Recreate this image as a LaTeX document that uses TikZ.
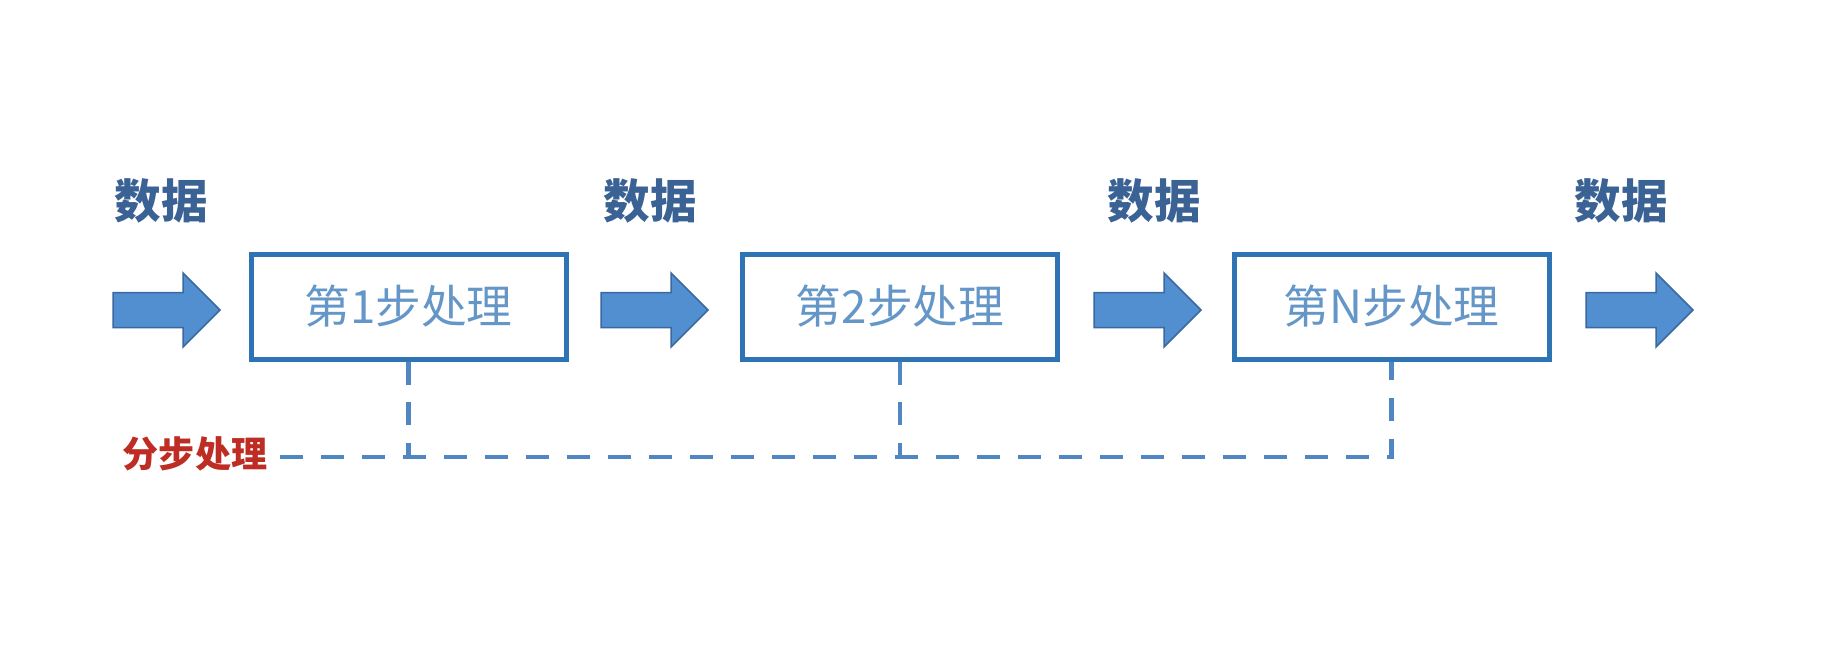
\documentclass[tikz,border=0pt]{standalone}
\usepackage{fontspec}
\setmainfont{Noto Sans CJK SC}
\begin{document}
\begin{tikzpicture}[x=0.02cm,y=-0.02cm]
\definecolor{arrowfill}{RGB}{82,143,208}
\definecolor{arrowline}{RGB}{58,104,160}
\definecolor{datatext}{RGB}{58,98,148}
\definecolor{boxline}{RGB}{46,115,180}
\definecolor{boxtext}{RGB}{100,150,200}
\definecolor{labelred}{RGB}{190,45,35}
\definecolor{dashcol}{RGB}{80,135,195}
\tikzset{
  stepbox/.style={draw=boxline, line width=0.1cm, fill=white, minimum width=315*0.02cm, minimum height=105*0.02cm, inner sep=0pt, text=boxtext, font=\fontsize{26pt}{30pt}\selectfont},
  datalabel/.style={text=datatext, font=\fontsize{26.5pt}{30pt}\selectfont\bfseries, inner sep=0pt},
  steplabel/.style={text=labelred, font=\fontsize{20.5pt}{24pt}\selectfont\bfseries, inner sep=0pt},
  dashline/.style={draw=dashcol, line width=0.09cm, dash pattern=on 0.46cm off 0.36cm},
  bigarrow/.style={fill=arrowfill, draw=arrowline, line width=0.03cm, line join=miter}
}
\useasboundingbox (0,0) rectangle (1842,646);
\fill[white] (0,0) rectangle (1842,646);
% block arrows
\foreach \ax in {113,601,1094,1586}{
  \draw[bigarrow] (\ax,292.5) -- (\ax+70,292.5) -- (\ax+70,273) -- (\ax+107,310)
     -- (\ax+70,347) -- (\ax+70,327.5) -- (\ax,327.5) -- cycle;
}
% boxes
\node[stepbox] (b1) at (408.5,306.5) {第1步处理};
\node[stepbox] (b2) at (900,306.5) {第2步处理};
\node[stepbox] (b3) at (1391.5,306.5) {第N步处理};
% data labels
\node[datalabel] (d1) at (161,201) {数据};
\node[datalabel] (d2) at (650,201) {数据};
\node[datalabel] (d3) at (1154,201) {数据};
\node[datalabel] (d4) at (1621,201) {数据};
% step label
\node[steplabel] (fb) at (195,454) {分步处理};
\coordinate (ls) at (280,457);
\coordinate (c1) at (408.5,457);
\coordinate (c2) at (900,457);
\coordinate (c3) at (1391.5,457);
\draw[dashline] (ls) -- (c3) -- (b3.south);
\draw[dashline] (b1.south) -- (c1);
\draw[dashline] (b2.south) -- (c2);
\end{tikzpicture}
\end{document}
